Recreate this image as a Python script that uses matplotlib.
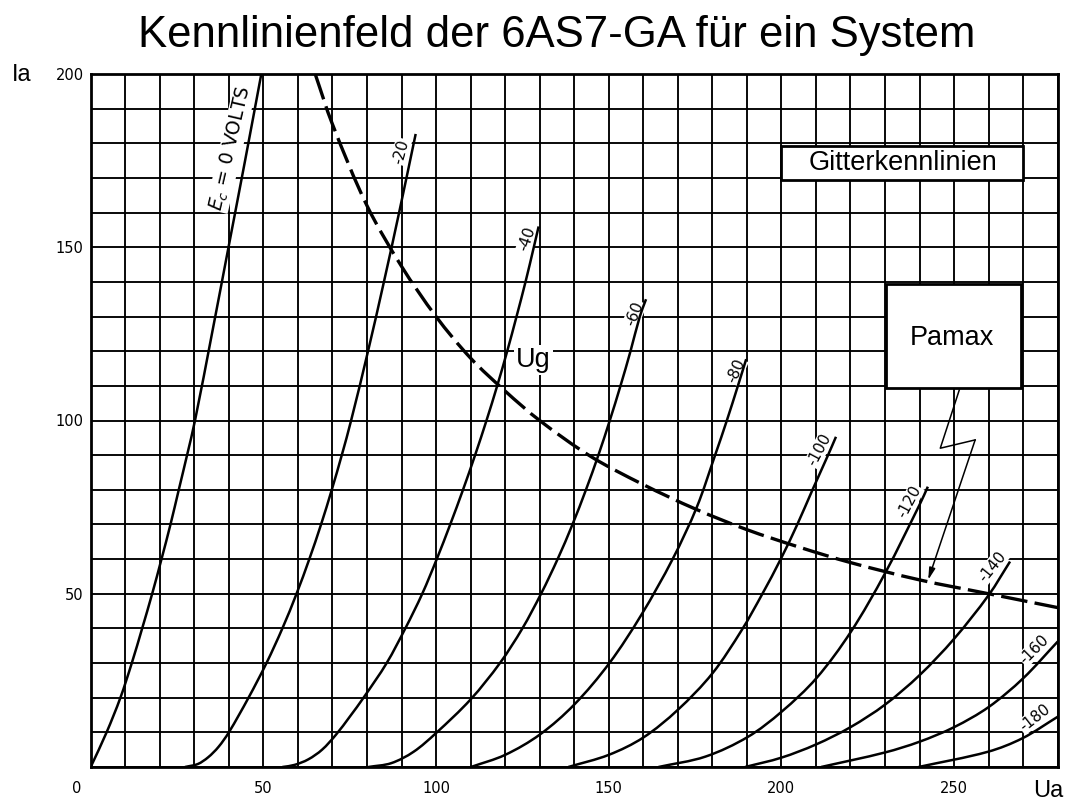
import matplotlib
matplotlib.use("Agg")
import matplotlib.pyplot as plt
import matplotlib.transforms as mtransforms
from matplotlib.patches import Rectangle, PathPatch
from matplotlib.path import Path
import numpy as np

W, H = 1067, 801

ua_0 = [0, 4.6, 8.6, 11.9, 14.9, 17.8, 20.5, 23.1, 25.5, 27.9, 30.2, 35.1, 39.9, 44.7, 49.4]
ia_0 = [0, 10, 20, 30, 40, 50, 60, 70, 80, 90, 100, 125, 150, 175, 200]

ua_20 = [27.3, 31, 34, 37, 40, 45.7, 50.9, 55.5, 59.6, 63.3, 66.7, 69.8, 72.7, 75.4, 80.3, 84.9, 89.3, 94.1]
ia_20 = [0, 0.85, 2.8, 5.8, 10, 20, 30, 40, 50, 60, 70, 80, 90, 100, 120, 140, 160, 182.7]

ua_40 = [55.5, 59, 63, 67, 71, 75, 79, 85.7, 91.1, 96.0, 100.2, 104.1, 107.8, 111.3, 114.6, 117.7, 120.6,
         123.3, 125.9, 128.3, 129.7]
ia_40 = [0, 0.6, 2.2, 5, 9.3, 14.5, 20, 30, 40, 50, 60, 70, 80, 90, 100, 110, 120, 130, 140, 150, 156]

ua_60 = [80.4, 87, 93.5, 100, 110, 118.5, 125, 130.4, 135.2, 139.5, 143.4, 147, 150.3, 153.4, 156.3, 159, 160.8]
ia_60 = [0, 1.1, 4.4, 9.8, 19.5, 30, 40, 50, 60, 70, 80, 90, 100, 110, 120, 130, 135]

ua_80 = [110.1, 120, 130.1, 140, 150.2, 159.5, 168.5, 175.5, 180.8, 184.2, 187.4, 189.8]
ia_80 = [0, 3.5, 9.4, 18, 30, 44, 60, 75, 90, 100, 110, 117.7]

ua_100 = [138.3, 150, 160, 170, 180, 188.5, 194.5, 199.8, 204.6, 209, 213.5, 215.8]
ia_100 = [0, 3.5, 8.5, 16.5, 27, 39.5, 50, 60, 70, 80, 90, 95.3]

ua_120 = [164.4, 178, 190.3, 200.1, 210.1, 220.1, 230, 240.2, 242.4]
ia_120 = [0, 3, 8.7, 16, 25.6, 39, 55.9, 76.1, 80.9]

ua_140 = [189.5, 200, 210, 220, 230, 240, 250, 260, 266.2]
ia_140 = [0, 2.7, 6.5, 11.5, 18, 26.5, 37, 49.6, 59.3]

ua_160 = [211.5, 230, 240, 250, 260, 270, 280]
ia_160 = [0, 4.2, 7.3, 11.5, 17.3, 25.6, 36.2]

ua_180 = [239.7, 259.8, 269.8, 280]
ia_180 = [0, 4.4, 8.3, 14.5]

# Pa max Hyperbel
ua_pmax = [65, 70, 80, 90, 100, 110, 120, 130, 145, 160, 175, 190, 205, 220, 240, 260, 280]
ia_pmax = [200, 185.5, 162, 144.5, 130, 118, 108.5, 100, 89.5, 81.5, 74.5, 68.5, 63.5, 59, 54, 50, 46]

curve_labels = ["Ec = 0 VOLTS", "-20", "-40", "-60", "-80", "-100", "-120", "-140", "-160", "-180"]

x_ticks = [0, 50, 100, 150, 200, 250]
y_ticks = [50, 100, 150, 200]

curves = [(ua_0, ia_0), (ua_20, ia_20), (ua_40, ia_40), (ua_60, ia_60), (ua_80, ia_80),
          (ua_100, ia_100), (ua_120, ia_120), (ua_140, ia_140), (ua_160, ia_160), (ua_180, ia_180)]

# label placement (Ua, Ia, rotation)
label_pos = [(40.6, 178.5, 77), (89.8, 177.6, 75), (126.4, 152.3, 71), (157.5, 130.9, 68),
             (186.8, 114.3, 66), (210.9, 91.5, 62), (237.0, 76.5, 62), (261.0, 57.8, 51),
             (273.3, 34.0, 45), (273.3, 14.2, 38)]


def smooth_path(xs, ys):
    # chordal Catmull-Rom through the read points, as cubic Bezier pieces
    p = np.column_stack([xs, ys]).astype(float)
    t = np.concatenate([[0], np.cumsum(np.hypot(*np.diff(p, axis=0).T))])
    m = np.zeros_like(p)
    m[0] = (p[1] - p[0]) / (t[1] - t[0])
    m[-1] = (p[-1] - p[-2]) / (t[-1] - t[-2])
    for i in range(1, len(p) - 1):
        m[i] = (p[i + 1] - p[i - 1]) / (t[i + 1] - t[i - 1])
    verts = [p[0]]
    codes = [Path.MOVETO]
    for i in range(len(p) - 1):
        h = t[i + 1] - t[i]
        verts += [p[i] + m[i] * h / 3, p[i + 1] - m[i + 1] * h / 3, p[i + 1]]
        codes += [Path.CURVE4] * 3
    return Path(verts, codes)


fig = plt.figure(figsize=(W / 100, H / 100), dpi=100)
ax = fig.add_axes([90.7 / W, 1 - 767 / H, 967 / W, 693 / H])
ax.set_xlim(0, 280)
ax.set_ylim(0, 200)

# grid
ax.set_xticks(np.arange(0, 281, 10), minor=True)
ax.set_yticks(np.arange(0, 201, 10), minor=True)
ax.set_xticks(x_ticks, [str(v) for v in x_ticks])
ax.set_yticks(y_ticks, [str(v) for v in y_ticks])
ax.grid(which="both", color="black", lw=1.35, zorder=0)
ax.tick_params(which="both", length=0)
ax.tick_params(axis="x", pad=10, labelsize=10.5)
ax.tick_params(axis="y", pad=5, labelsize=10.5)
for s in ax.spines.values():
    s.set_linewidth(2)
ax.set_axisbelow(True)

# the "0" sits a bit left of the corner in the scan
lab0 = ax.get_xticklabels()[0]
lab0.set_transform(lab0.get_transform() + mtransforms.ScaledTranslation(-14 / 100, 0, fig.dpi_scale_trans))

for (ua, ia) in curves:
    ax.add_patch(PathPatch(smooth_path(ua, ia), facecolor="none", edgecolor="black",
                           lw=1.8, joinstyle="round", zorder=3))

ax.add_patch(PathPatch(smooth_path(ua_pmax, ia_pmax), facecolor="none", edgecolor="black",
                       lw=2.4, linestyle=(0, (8, 2.2)), zorder=3))

for text, (x, y, rot) in zip(curve_labels, label_pos):
    size = 11
    if text.startswith("Ec"):
        text = r"$E_c$ = 0 VOLTS"
        size = 13.5
    ax.text(x, y, text, rotation=rot, rotation_mode="anchor", ha="center", va="center",
            fontsize=size, family="DejaVu Sans", zorder=2.5,
            bbox=dict(facecolor="white", edgecolor="none", pad=0.6))

# boxes
ax.add_patch(Rectangle((200, 169.5), 70, 9.8, facecolor="white", edgecolor="black", lw=2, zorder=4))
ax.text(235.3, 174.4, "Gitterkennlinien", ha="center", va="center", fontsize=19.5,
        family="Liberation Sans", zorder=5)
ax.add_patch(Rectangle((230.2, 109.3), 39.2, 30.1, facecolor="white", edgecolor="black", lw=2, zorder=4))
ax.text(249.3, 123.7, "Pamax", ha="center", va="center", fontsize=19.5,
        family="Liberation Sans", zorder=5)

# zigzag arrow from Pamax box to the dashed curve
ax.plot([251.5, 246, 256.1], [108.8, 92, 94.4], color="black", lw=1.1, zorder=4)
ax.annotate("", xy=(242.5, 54), xytext=(256.1, 94.4),
            arrowprops=dict(arrowstyle="-|>,head_length=0.7,head_width=0.18", color="black",
                            lw=1.1, shrinkA=0, shrinkB=0), zorder=4)

ax.text(128.2, 115.5, "Ug", ha="center", va="baseline", fontsize=19.5, family="Liberation Sans",
        zorder=5, bbox=dict(facecolor="white", edgecolor="none", pad=1.5))

fig.text(0.5216, 1 - 35 / H, "Kennlinienfeld der 6AS7-GA für ein System", ha="center", va="center",
         fontsize=31.5, family="Liberation Sans")
fig.text(21.7 / W, 1 - 75 / H, "Ia", ha="center", va="center", fontsize=17, family="Liberation Sans")
fig.text(1033 / W, 1 - 797 / H, "Ua", ha="left", va="baseline", fontsize=17, family="Liberation Sans")

fig.savefig("out.png", dpi=100)
